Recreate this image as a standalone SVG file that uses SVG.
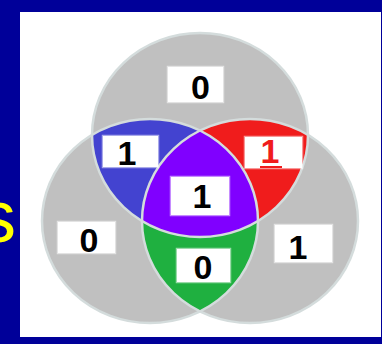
<svg xmlns="http://www.w3.org/2000/svg" width="382" height="344" viewBox="0 0 382 344">
<style>
.lbl{fill:#fff;stroke:#fff;stroke-opacity:0.55;stroke-width:2.5}
.d{font-family:"Liberation Sans",Arial,sans-serif;font-weight:bold;font-size:34px;text-anchor:middle;fill:#000}
.edge{fill:none;stroke:#d4dcdc;stroke-width:2.5}
</style>
<defs>
<ellipse id="eT" cx="200" cy="135" rx="108" ry="102"/>
<ellipse id="eL" cx="150" cy="221" rx="108" ry="102"/>
<ellipse id="eR" cx="250" cy="221" rx="108" ry="102"/>
<clipPath id="cT"><use href="#eT"/></clipPath>
<clipPath id="cL"><use href="#eL"/></clipPath>
<clipPath id="cR"><use href="#eR"/></clipPath>
</defs>
<rect width="382" height="344" fill="#000099"/>
<rect x="20" y="12" width="361" height="325" fill="#fff"/>
<text x="-21" y="242" font-family="'Liberation Sans',Arial,sans-serif" font-size="74" fill="#ffff00">s</text>
<g id="circles">
<use href="#eT" fill="#c0c0c0"/>
<use href="#eL" fill="#c0c0c0"/>
<use href="#eR" fill="#c0c0c0"/>
</g>
<g id="regions">
<g clip-path="url(#cT)"><use href="#eL" fill="#4343d0"/></g>
<g clip-path="url(#cT)"><use href="#eR" fill="#f01c1c"/></g>
<g clip-path="url(#cL)"><use href="#eR" fill="#1fb040"/></g>
<g clip-path="url(#cL)"><g clip-path="url(#cR)"><use href="#eT" fill="#8000ff"/></g></g>
</g>
<g id="connectors">
<use href="#eT" class="edge"/>
<use href="#eL" class="edge"/>
<use href="#eR" class="edge"/>
</g>
<g id="label-top"><rect class="lbl" x="168" y="67" width="55" height="35"/><text class="d" x="200.5" y="99">0</text></g>
<g id="label-blue"><rect class="lbl" x="103" y="136" width="55" height="31"/><text class="d" x="127" y="165">1</text></g>
<g id="label-red"><rect class="lbl" x="245" y="137" width="57" height="31"/><text class="d" x="270" y="163" fill="#f01c1c" style="fill:#f01c1c">1</text><rect x="260" y="166" width="22" height="2" fill="#f01c1c"/></g>
<g id="label-center"><rect class="lbl" x="171" y="177" width="58" height="38"/><text class="d" x="202" y="208">1</text></g>
<g id="label-left"><rect class="lbl" x="58" y="222" width="57" height="31"/><text class="d" x="89" y="252">0</text></g>
<g id="label-green"><rect class="lbl" x="177" y="249" width="53" height="33"/><text class="d" x="203" y="279">0</text></g>
<g id="label-right"><rect class="lbl" x="275" y="225" width="57" height="37"/><text class="d" x="298" y="259">1</text></g>
</svg>
